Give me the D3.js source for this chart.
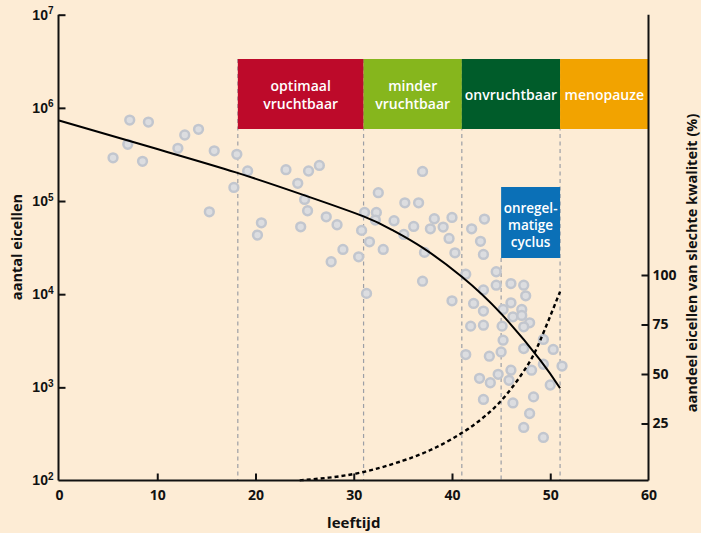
<!DOCTYPE html>
<html><head><meta charset="utf-8">
<script src="https://cdn.jsdelivr.net/npm/d3@7"></script>
<style>
html,body{margin:0;padding:0;background:#fdecd5;}
svg{display:block;font-family:"Open Sans",sans-serif;}
</style></head>
<body>
<svg id="c" width="701" height="533"></svg>
<script>
// ---- data ----
const pointAges = [5.5,7.0,7.2,8.5,9.1,12.1,12.8,14.2,15.8,15.3,18.1,17.8,19.2,20.6,20.2,23.1,25.4,26.5,24.3,25.0,25.3,24.6,27.2,28.3,28.9,27.7,30.5,31.1,32.3,32.2,30.8,32.5,31.6,33.0,31.3,34.1,35.2,36.6,37.0,35.1,36.1,37.2,38.2,37.8,39.1,40.0,39.7,40.3,42.0,41.4,37.0,40.0,42.2,43.3,42.9,43.2,44.5,43.2,44.5,46.0,47.3,47.5,43.2,46.0,45.2,47.1,46.2,47.1,47.9,41.9,43.2,45.1,47.3,45.2,49.3,47.3,50.3,41.4,43.8,45.0,49.3,51.2,46.0,48.1,44.7,42.8,43.9,45.8,50.0,43.2,46.2,48.3,47.9,47.3,49.3];
const pointCells = [291000,406000,740000,267000,704000,368000,511000,588000,346000,76600,317000,140000,210000,58400,43100,217000,210000,241000,155000,104000,78600,52900,67700,55600,30200,22300,25200,75500,75500,62400,48400,123000,36500,30200,10200,61400,95700,95700,208000,43800,53400,28100,64500,50300,52500,66700,39700,27800,50300,16400,13800,8480,7960,64000,36900,26700,17400,11100,12500,13000,12500,9600,6580,8080,6860,6860,5710,5910,4930,4540,4650,4540,4460,3210,3270,2610,2550,2250,2160,2400,1770,1690,1530,1530,1380,1250,1120,1190,1060,741,681,790,524,371,290];

const curveAges  = [0,10,18,25,31,34,37,41,45,49,51];
const curveCells = [733000,361000,203000,115000,68400,48400,31600,15400,6180,1950,977];

const badAges = [24.5,30,35,38.4,41.7,45,47.6,49,51];
const badPct  = [-3.7,-0.5,6.2,13,22.5,36.5,53.7,67.2,91.6];

const phaseNames = [["optimaal","vruchtbaar"],["minder","vruchtbaar"],["onvruchtbaar"],["menopauze"]];
const phaseStart = [18.2,31,41,51];
const phaseEnd   = [31,41,51,60];
const cycleName  = ["onregel-","matige","cyclus"];
const cycleStart = 45, cycleEnd = 51;

const xTicks = [0,10,20,30,40,50,60];
const yTicks = [1e2,1e3,1e4,1e5,1e6,1e7];
const rTicks = [25,50,75,100];

// ---- styles ----
const phaseColors = ["#bd0a2a","#86b61d","#005c2a","#f2a300"];
const cycleColor = "#0b70b7";

const svg = d3.select("#c");
const x = d3.scaleLinear().domain([0,60]).range([59,648.5]);
const y = d3.scaleLog().domain([1e2,1e7]).range([480.5,14.7]);
const yR = d3.scaleLinear().domain([0,100]).range([473,275]);

// dashed guide lines
const gl = svg.append("g");
[18.2,31,41,51].forEach(a=>{
  gl.append("line").attr("x1",x(a)).attr("x2",x(a)).attr("y1",59).attr("y2",480.5)
    .attr("stroke","#9c9fa6").attr("stroke-width",1.2).attr("stroke-dasharray","4,3.5");
});
gl.append("line").attr("x1",x(cycleStart)).attr("x2",x(cycleStart)).attr("y1",258).attr("y2",480.5)
  .attr("stroke","#9c9fa6").attr("stroke-width",1.2).attr("stroke-dasharray","4,3.5");

// phase boxes
phaseNames.forEach((nm,i)=>{
  const x0 = x(phaseStart[i]), x1 = x(phaseEnd[i]);
  svg.append("rect").attr("x",x0).attr("y",59).attr("width",x1-x0).attr("height",70).attr("fill",phaseColors[i]);
  const t = svg.append("text").attr("x",(x0+x1)/2).attr("text-anchor","middle").attr("fill","#fff")
    .attr("font-size",14).attr("font-weight",600);
  const base = nm.length===2 ? 91 : 100;
  nm.forEach((s,j)=> t.append("tspan").attr("x",(x0+x1)/2).attr("y",base+j*18).text(s));
});
// cycle box
{
  const x0 = x(cycleStart), x1 = x(cycleEnd);
  svg.append("rect").attr("x",x0).attr("y",187).attr("width",x1-x0).attr("height",71).attr("fill",cycleColor);
  cycleName.forEach((s,j)=> svg.append("text").attr("text-anchor","middle").attr("fill","#fff")
    .attr("font-size",13.5).attr("font-weight",600)
    .attr("x",(x0+x1)/2).attr("y",213+j*17).text(s));
}

// points
svg.append("g").selectAll("circle").data(pointAges.map((a,i)=>[a,pointCells[i]])).join("circle")
  .attr("cx",d=>x(d[0])).attr("cy",d=>y(d[1])).attr("r",4.4)
  .attr("fill","#dcdde0").attr("stroke","#c2c6ce").attr("stroke-width",2.5);

// solid curve
svg.append("path").datum(curveAges.map((a,i)=>[a,curveCells[i]]))
  .attr("d",d3.line().x(d=>x(d[0])).y(d=>y(d[1])).curve(d3.curveNatural))
  .attr("fill","none").attr("stroke","#000").attr("stroke-width",2);
// dashed curve
svg.append("path").datum(badAges.map((a,i)=>[a,badPct[i]]))
  .attr("d",d3.line().x(d=>x(d[0])).y(d=>yR(d[1])).curve(d3.curveNatural))
  .attr("fill","none").attr("stroke","#000").attr("stroke-width",2.4).attr("stroke-dasharray","4,3");

// axes
const fontAxis = g=>g.selectAll("text").attr("font-size",14).attr("font-weight",700).attr("fill","#111").attr("font-family","'Open Sans',sans-serif");
const styleAx = g=>{g.select(".domain").attr("stroke","#111").attr("stroke-width",2);g.selectAll(".tick line").attr("stroke","#111").attr("stroke-width",2);};

const gx = svg.append("g").attr("transform","translate(0,480.5)")
  .call(d3.axisBottom(x).tickValues(xTicks).tickSizeInner(-7).tickSizeOuter(0).tickPadding(10).tickFormat(d3.format("d")));
gx.call(styleAx).call(fontAxis);
gx.selectAll(".tick").filter(d=>d===0||d===60).select("line").remove();

const gy = svg.append("g").attr("transform","translate(58.5,0)")
  .call(d3.axisLeft(y).tickValues(yTicks).tickSizeInner(-7).tickSizeOuter(0).tickPadding(5).tickFormat(()=>""));
gy.call(styleAx);
gy.selectAll(".tick text").each(function(d){
  const t = d3.select(this);
  t.attr("font-size",14).attr("font-weight",700).attr("fill","#111");
  t.append("tspan").text("10");
  t.append("tspan").attr("font-size",10).attr("dy","-0.55em").text(Math.round(Math.log10(d)));
});
gy.selectAll(".tick").filter(d=>d===1e2).select("line").remove();

const gr = svg.append("g").attr("transform","translate(648.5,0)")
  .call(d3.axisRight(yR).tickValues(rTicks).tickSizeInner(-7).tickSizeOuter(0).tickPadding(4));
gr.call(styleAx).call(fontAxis);
gr.select(".domain").attr("d","M0,14.7V480.5");
gx.select(".domain").attr("d","M58.5,0H648.5");
gy.select(".domain").attr("d","M0,14.7V480.5");

// titles
svg.append("text").attr("x",x(30)).attr("y",528).attr("text-anchor","middle")
  .attr("font-size",15).attr("font-weight",700).attr("fill","#111").text("leeftijd");
svg.append("text").attr("transform","translate(22,247) rotate(-90)").attr("text-anchor","middle")
  .attr("font-size",14.5).attr("font-weight",700).attr("fill","#111").text("aantal eicellen");
svg.append("text").attr("transform","translate(697,263) rotate(-90)").attr("text-anchor","middle")
  .attr("font-size",14.5).attr("font-weight",700).attr("fill","#111").text("aandeel eicellen van slechte kwaliteit (%)");
</script>
</body></html>
